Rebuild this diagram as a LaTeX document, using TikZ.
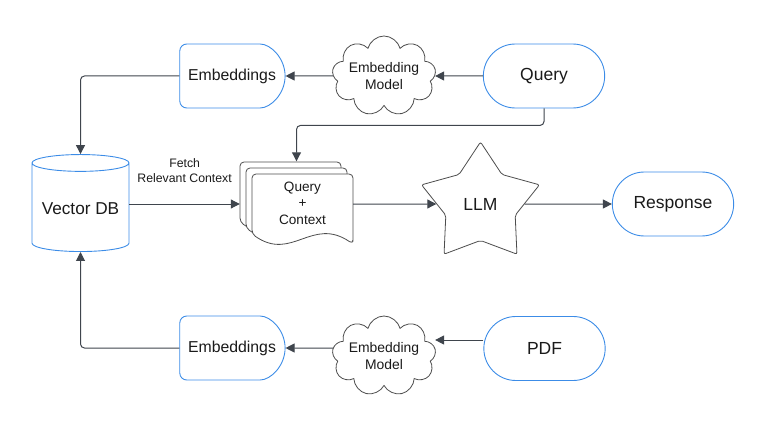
\documentclass[tikz,border=0pt]{standalone}
\usepackage{fontspec}
\setmainfont{Liberation Sans}
\usepackage{tikz}
\usetikzlibrary{shapes.geometric,shapes.misc,shapes.symbols}
\usetikzlibrary{arrows.meta,positioning}
\definecolor{lucidblue}{HTML}{3C8CE7}
\definecolor{edgegray}{HTML}{3F454D}
\definecolor{shapegray}{HTML}{4D4D4D}
\definecolor{textdark}{HTML}{1A1A1A}

\begin{document}
\begin{tikzpicture}[x=1pt,y=-1pt,text=textdark,
    arr/.style={-{Triangle[length=9pt,width=9pt]},line width=1pt,draw=edgegray},
    pill/.style={rounded rectangle,draw=lucidblue,line width=0.9pt,minimum width=128pt,minimum height=64pt,font=\fontsize{17.5}{21}\selectfont},
    delaybox/.style={rounded rectangle,rounded rectangle left arc=none,rounded corners=7pt,draw=lucidblue,line width=0.9pt,minimum width=112pt,minimum height=64pt,font=\fontsize{15.8}{19}\selectfont},
    puff/.style={cloud,cloud puffs=9,cloud ignores aspect,draw=shapegray,line width=0.8pt,minimum width=96pt,minimum height=80pt,inner sep=0pt,align=center,font=\fontsize{13.9}{17.5}\selectfont},
    doc/.style={draw=shapegray,fill=white,line width=0.8pt,rounded corners=4pt}]
      \useasboundingbox (0,0) rectangle (773,433);
      \node[pill] (qry) at (544,76) {Query};
      \node[puff] (cld1) at (384,76) {Embedding\\Model};
      \node[delaybox] (emb1) at (232,76) {Embeddings};
      \node[cylinder,shape border rotate=90,aspect=0.2,draw=lucidblue,line width=0.9pt,minimum width=97pt,minimum height=97pt,font=\fontsize{17.2}{20}\selectfont] (vdb) at (80.5,209) {Vector DB};
      \foreach \d in {0,6,12}
        \draw[doc,shift={(240+\d,162+\d)}] (101,70) -- (101,0) -- (0,0) -- (0,60) .. controls (40,88) and (60,42) .. (101,70) -- cycle;
      \node[minimum width=113pt,minimum height=85pt,inner sep=0pt] (ctx) at (296.5,204) {};
      \node[align=center,font=\fontsize{13.6}{16.5}\selectfont] (ctxtext) at (302.5,203) {Query\\+\\Context};
      \node[star,star points=5,star point ratio=1.7,minimum size=124pt,inner sep=0pt,draw=shapegray,line width=0.8pt,rounded corners=2pt,font=\fontsize{17.5}{21}\selectfont] (llm) at (480.5,204) {LLM};
      \node[pill] (rsp) at (673,204) {Response};
      \node[delaybox] (emb2) at (232,348) {Embeddings};
      \node[puff] (cld2) at (384,356) {Embedding\\Model};
      \node[pill] (pdf) at (544.5,348.5) {PDF};
      \draw[arr] (qry.west) -- (cld1.east);
      \draw[arr] (cld1.west) -- (emb1.east);
      \draw[arr,rounded corners=4pt] (emb1.west) -| (vdb.north);
      \draw[arr,rounded corners=4pt] (qry.south) -- ++(0,17) -| (ctx.north);
      \draw[arr] (ctx.west -| vdb.east) -- node[above=21pt,inner sep=0pt,align=center,font=\fontsize{12.3}{15}\selectfont] {Fetch\\Relevant Context} (ctx.west);
      \draw[arr] (ctx.east) -- (llm.west);
      \draw[arr] (llm.east) -- (rsp.west);
      \draw[arr] ([yshift=8.5pt]pdf.west) -- ([yshift=8.5pt]pdf.west -| cld2.east);
      \draw[arr] ([yshift=8pt]cld2.west) -- (emb2.east);
      \draw[arr,rounded corners=4pt] (emb2.west) -| (vdb.south);
    \end{tikzpicture}
\end{document}
